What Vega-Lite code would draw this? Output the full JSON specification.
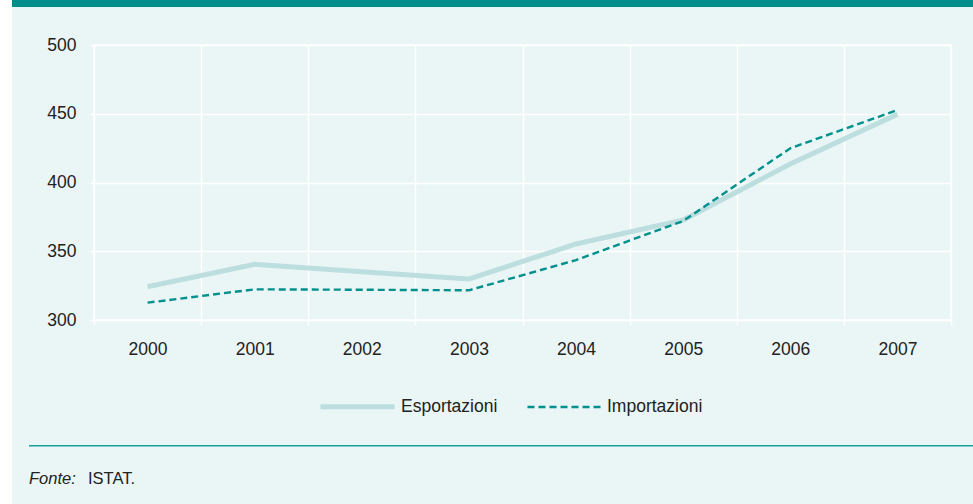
{
  "$schema": "https://vega.github.io/schema/vega-lite/v6.json",
  "width": 857,
  "height": 275,
  "autosize": {"type": "none"},
  "padding": {"left": 94, "top": 45, "right": 22, "bottom": 184},
  "background": "#EAF5F5",
  "config": {
    "view": {"stroke": "white", "strokeWidth": 1.5},
    "font": "Liberation Sans",
    "axis": {"labelFont": "Liberation Sans", "labelColor": "#222222", "labelFontSize": 17.5, "gridColor": "white", "gridWidth": 1.5, "gridOpacity": 1, "tickColor": "white", "tickWidth": 1.5, "domain": false, "title": null},
    "legend": {"labelFont": "Liberation Sans", "labelColor": "#222222", "labelFontSize": 17.5}
  },
  "datasets": {
    "series": [
      {"anno": "2000", "serie": "Esportazioni", "valore": 324.2},
      {"anno": "2001", "serie": "Esportazioni", "valore": 340.5},
      {"anno": "2002", "serie": "Esportazioni", "valore": 335.1},
      {"anno": "2003", "serie": "Esportazioni", "valore": 329.8},
      {"anno": "2004", "serie": "Esportazioni", "valore": 355.3},
      {"anno": "2005", "serie": "Esportazioni", "valore": 372.7},
      {"anno": "2006", "serie": "Esportazioni", "valore": 413.5},
      {"anno": "2007", "serie": "Esportazioni", "valore": 449.6},
      {"anno": "2000", "serie": "Importazioni", "valore": 312.6},
      {"anno": "2001", "serie": "Importazioni", "valore": 322.3},
      {"anno": "2002", "serie": "Importazioni", "valore": 322.0},
      {"anno": "2003", "serie": "Importazioni", "valore": 321.6},
      {"anno": "2004", "serie": "Importazioni", "valore": 343.6},
      {"anno": "2005", "serie": "Importazioni", "valore": 372.0},
      {"anno": "2006", "serie": "Importazioni", "valore": 424.9},
      {"anno": "2007", "serie": "Importazioni", "valore": 452.7}
    ]
  },
  "layer": [
    {
      "data": {"name": "series"},
      "mark": {"type": "line", "strokeCap": "butt", "strokeJoin": "miter"},
      "encoding": {
        "x": {"field": "anno", "type": "ordinal", "scale": {"type": "band", "paddingInner": 0, "paddingOuter": 0},
              "axis": {"labelAngle": 0, "tickBand": "extent", "grid": true, "tickSize": 5, "labelPadding": 15}},
        "y": {"field": "valore", "type": "quantitative", "scale": {"domain": [300, 500], "nice": false, "zero": false},
              "axis": {"values": [300, 350, 400, 450, 500], "tickSize": 4, "labelPadding": 14}},
        "color": {"field": "serie", "type": "nominal", "scale": {"domain": ["Esportazioni", "Importazioni"], "range": ["#BCDEDE", "#00908D"]},
                  "legend": {"orient": "none", "legendX": 224, "legendY": 322, "direction": "horizontal", "title": null, "symbolType": "stroke", "symbolSize": 5476, "labelOffset": 4, "columnPadding": 24}},
        "strokeWidth": {"field": "serie", "type": "nominal", "scale": {"domain": ["Esportazioni", "Importazioni"], "range": [5, 2.4]}, "legend": null},
        "strokeDash": {"field": "serie", "type": "nominal", "scale": {"domain": ["Esportazioni", "Importazioni"], "range": [[1, 0], [7, 4]]}, "legend": null}
      }
    },
    {
      "data": {"values": [{}]},
      "mark": {"type": "rect", "fill": "#008E8C"},
      "encoding": {"x": {"value": -82}, "x2": {"value": 879}, "y": {"value": -45}, "y2": {"value": -38}}
    },
    {
      "data": {"values": [{}]},
      "mark": {"type": "rect", "fill": "white"},
      "encoding": {"x": {"value": -94}, "x2": {"value": -82}, "y": {"value": -45}, "y2": {"value": 459}}
    },
    {
      "data": {"values": [{}]},
      "mark": {"type": "rule", "stroke": "#1A9E9C", "strokeWidth": 1.5},
      "encoding": {"x": {"value": -65}, "x2": {"value": 879}, "y": {"value": 400.7}}
    },
    {
      "data": {"values": [{"t": "Fonte:"}]},
      "mark": {"type": "text", "align": "left", "baseline": "alphabetic", "fontStyle": "italic", "fontSize": 16.5, "color": "#222222", "font": "Liberation Sans"},
      "encoding": {"text": {"field": "t"}, "x": {"value": -65}, "y": {"value": 439}}
    },
    {
      "data": {"values": [{"t": "ISTAT."}]},
      "mark": {"type": "text", "align": "left", "baseline": "alphabetic", "fontSize": 16.5, "color": "#222222", "font": "Liberation Sans"},
      "encoding": {"text": {"field": "t"}, "x": {"value": -6}, "y": {"value": 439}}
    }
  ]
}
